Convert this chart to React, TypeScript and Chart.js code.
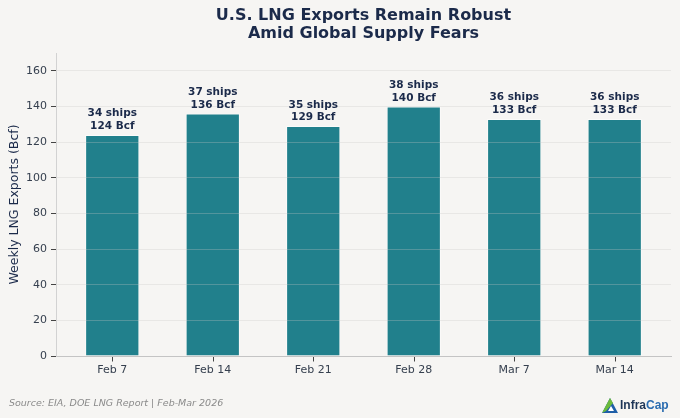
import React, { useEffect, useRef } from "react";
import { Chart, registerables } from "chart.js";

Chart.register(...registerables);

// ---- data ----
const categories: string[] = ["Feb 7", "Feb 14", "Feb 21", "Feb 28", "Mar 7", "Mar 14"];
const exportsBcf: number[] = [124, 136, 129, 140, 133, 133];
const ships: number[] = [34, 37, 35, 38, 36, 36];
const yTickValues: number[] = [0, 20, 40, 60, 80, 100, 120, 140, 160];

const TITLE_LINES: string[] = ["U.S. LNG Exports Remain Robust", "Amid Global Supply Fears"];
const Y_TITLE = "Weekly LNG Exports (Bcf)";
const SOURCE = "Source: EIA, DOE LNG Report | Feb-Mar 2026";
const LOGO_A = "Infra";
const LOGO_B = "Cap";

// ---- styles ----
const FONT = "'DejaVu Sans', 'Noto Sans', sans-serif";
const BG = "#f6f5f3";
const NAVY = "#1b2a4a";
const TICK_COLOR = "#36404f";
const BAR = "#21808c";
const GRID = "rgba(200,200,200,0.38)";

const barLabelsPlugin = {
  id: "barLabels",
  afterDraw(chart: any) {
    const ctx = chart.ctx;
    const meta = chart.getDatasetMeta(0);
    ctx.save();
    ctx.font = `bold 10.5px ${FONT}`;
    ctx.fillStyle = NAVY;
    ctx.textAlign = "center";
    ctx.textBaseline = "middle";
    meta.data.forEach((bar: any, i: number) => {
      const { x, y } = bar.getProps(["x", "y"], true);
      ctx.fillText(`${ships[i]} ships`, x, y - 21.3);
      ctx.fillText(`${exportsBcf[i]} Bcf`, x, y - 8.6);
    });
    ctx.restore();
  },
};

const xTickMarksPlugin = {
  id: "xTickMarks",
  afterDraw(chart: any) {
    const ctx = chart.ctx;
    const xs = chart.scales.x;
    const y0 = Math.round(chart.chartArea.bottom) + 0.5;
    ctx.save();
    ctx.strokeStyle = "#444";
    ctx.lineWidth = 1;
    ctx.beginPath();
    xs.ticks.forEach((_: any, i: number) => {
      const px = Math.round(xs.getPixelForTick(i)) + 0.5;
      ctx.moveTo(px, y0 + 0.5);
      ctx.lineTo(px, y0 + 5);
    });
    ctx.stroke();
    ctx.restore();
  },
};

const footerPlugin = {
  id: "footer",
  afterDraw(chart: any) {
    const ctx = chart.ctx;
    ctx.save();
    // source
    ctx.font = `italic 9.5px ${FONT}`;
    ctx.fillStyle = "#8a8a8a";
    ctx.textAlign = "left";
    ctx.textBaseline = "middle";
    ctx.fillText(SOURCE, 9, 404);

    // logo icon
    const ix = 602, iy = 398, iw = 16, ih = 15;
    ctx.beginPath();
    ctx.moveTo(ix + iw / 2, iy);
    ctx.lineTo(ix + iw, iy + ih);
    ctx.lineTo(ix, iy + ih);
    ctx.closePath();
    ctx.fillStyle = "#1f5fa8";
    ctx.fill();
    ctx.beginPath();
    ctx.moveTo(ix + iw / 2, iy);
    ctx.lineTo(ix + iw / 2 + 3, iy + 5);
    ctx.lineTo(ix + 4, iy + ih - 2);
    ctx.lineTo(ix, iy + ih);
    ctx.closePath();
    ctx.fillStyle = "#6cbb3c";
    ctx.fill();
    ctx.beginPath();
    ctx.moveTo(ix + iw / 2 + 1, iy + 8);
    ctx.lineTo(ix + iw / 2 + 4, iy + ih - 2);
    ctx.lineTo(ix + iw / 2 - 2, iy + ih - 2);
    ctx.closePath();
    ctx.fillStyle = "#ffffff";
    ctx.fill();

    // logo text
    ctx.font = `bold 12px 'Liberation Sans', Arial, sans-serif`;
    ctx.textBaseline = "middle";
    ctx.fillStyle = "#1d3557";
    ctx.fillText(LOGO_A, 620, 406);
    const w = ctx.measureText(LOGO_A).width;
    ctx.fillStyle = "#2b6cb0";
    ctx.fillText(LOGO_B, 620 + w, 406);
    ctx.restore();
  },
};

export default function App() {
  const canvasRef = useRef<HTMLCanvasElement | null>(null);

  useEffect(() => {
    if (!canvasRef.current) return;
    const chart = new Chart(canvasRef.current, {
      type: "bar",
      data: {
        datasets: [
          {
            label: "Weekly LNG Exports (Bcf)",
            data: exportsBcf.map((v, i) => ({ x: i, y: v })),
            backgroundColor: BAR,
            borderColor: "rgba(255,255,255,0.55)",
            borderWidth: 1,
            categoryPercentage: 1,
            barPercentage: 0.54,
          } as any,
        ],
      },
      options: {
        animation: false,
        responsive: true,
        maintainAspectRatio: false,
        layout: { padding: { left: 0, right: 9, top: 0, bottom: 0 } },
        plugins: {
          legend: { display: false },
          tooltip: { enabled: false },
          title: {
            display: true,
            fullSize: false,
            text: TITLE_LINES,
            color: NAVY,
            font: { family: FONT, size: 16, weight: "bold", lineHeight: 1.1 },
            padding: { top: 7.5, bottom: 10.3 },
          },
        },
        scales: {
          x: {
            type: "linear",
            min: -0.56,
            max: 5.56,
            offset: false,
            afterBuildTicks: (s: any) => {
              s.ticks = categories.map((_, i) => ({ value: i }));
            },
            afterFit: (s: any) => {
              s.height = 62;
            },
            ticks: {
              stepSize: 1,
              autoSkip: false,
              maxRotation: 0,
              padding: 8,
              color: TICK_COLOR,
              font: { family: FONT, size: 11 },
              callback: (v: any) => categories[v] ?? "",
            },
            grid: {
              display: false,
              drawOnChartArea: false,
              drawTicks: false,
            },
            border: { display: true, color: "#c4c4c4", width: 1 },
          },
          y: {
            min: 0,
            max: 170,
            afterBuildTicks: (s: any) => {
              s.ticks = yTickValues.map((v) => ({ value: v }));
            },
            afterFit: (s: any) => {
              s.width = 56;
            },
            ticks: {
              padding: 4,
              color: TICK_COLOR,
              font: { family: FONT, size: 11 },
            },
            grid: {
              z: 1,
              color: (c: any) => (c.tick && c.tick.value === 0 ? "rgba(0,0,0,0)" : GRID),
              lineWidth: 0.8,
              drawTicks: true,
              tickLength: 5,
              tickColor: "#444",
              tickWidth: 1,
            } as any,
            border: { display: true, color: "#d2d2d2", width: 1, z: 2 },
            title: {
              display: true,
              text: Y_TITLE,
              color: NAVY,
              font: { family: FONT, size: 12.5 },
              padding: { top: 7, bottom: 0 },
            },
          },
        },
      } as any,
      plugins: [barLabelsPlugin, xTickMarksPlugin, footerPlugin],
    });
    return () => chart.destroy();
  }, []);

  return (
    <div
      style={{
        position: "fixed",
        left: 0,
        top: 0,
        width: 680,
        height: 418,
        background: BG,
      }}
    >
      <canvas ref={canvasRef} />
    </div>
  );
}
